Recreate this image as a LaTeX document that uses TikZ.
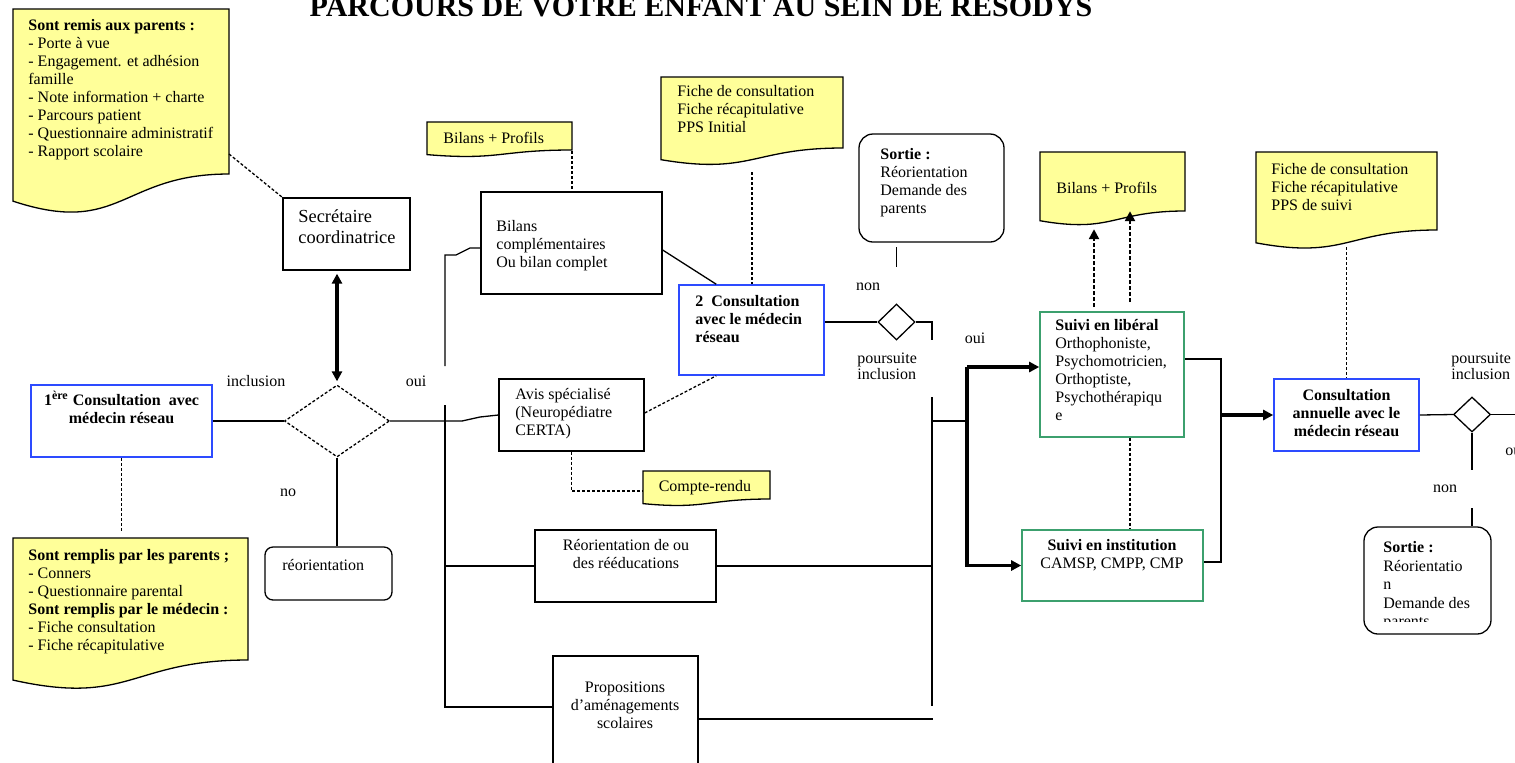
\documentclass[tikz,border=0pt]{standalone}
\usepackage{fontspec}
\setmainfont{Liberation Serif}
\usetikzlibrary{arrows.meta,positioning,fit,shapes.geometric}

\definecolor{noteyellow}{RGB}{255,255,153}
\definecolor{boxblue}{RGB}{45,75,255}
\definecolor{boxgreen}{RGB}{60,160,110}

\tikzset{
  bigtip/.tip={Triangle[length=5pt,width=5pt]},
  txt/.style={inner sep=0pt, align=left, font=\fontsize{8}{9}\selectfont},
  txtb/.style={txt, font=\fontsize{8}{9}\selectfont\bfseries},
  lbl/.style={txt, font=\fontsize{8}{8}\selectfont},
  titletxt/.style={inner sep=0pt, anchor=base, font=\fontsize{15}{15}\selectfont\bfseries},
  plainbox/.style={draw, line width=0.65pt, inner sep=0pt},
  bluebox/.style={plainbox, draw=boxblue, line width=0.8pt},
  greenbox/.style={plainbox, draw=boxgreen, line width=0.8pt},
  roundbox/.style={plainbox, rounded corners=#1},
  decision/.style={diamond, draw, line width=0.65pt, inner sep=0pt},
  notefill/.style={draw, fill=noteyellow, line width=0.65pt},
  link/.style={line width=0.65pt},
  dotlink/.style={line width=0.65pt, dash pattern=on 1.5pt off 1pt},
  bigarrow/.style={line width=1.6pt, -bigtip},
  twoway/.style={line width=1.6pt, bigtip-bigtip},
  dasharrow/.style={line width=1.2pt, dash pattern=on 2pt off 1pt, -bigtip},
}

% yellow document shape: left, top, right, right-bottom
\newcommand{\notedoc}[4]{%
  \pgfmathsetmacro{\notehgt}{(#4-#2)/0.802}
  \draw[notefill] (#1,#2) -- (#3,#2) -- (#3,#4)
    .. controls ({(#1+#3)/2},#4) and ({(#1+#3)/2},{#2+1.107*\notehgt}) ..
    (#1,{#2+0.934*\notehgt}) -- cycle;
}

\begin{document}
\begin{tikzpicture}[x=0.5pt,y=-0.5pt]
  \useasboundingbox (0,0) rectangle (1515,762);

  %Title, cut by the top of the page
  \node[titletxt] (title) at (701,16) {PARCOURS DE VOTRE ENFANT AU SEIN DE RESODYS};

  %Yellow notes
  \notedoc{13}{9}{229}{174}       %remis aux parents
  \notedoc{13}{538}{248}{660}     %remplis
  \notedoc{427}{122}{572}{150}    %bilans + profils
  \notedoc{661}{77}{843}{148}     %fiche initiale
  \notedoc{643}{471}{770}{499}    %compte-rendu
  \notedoc{1040}{152}{1185}{211}  %bilans + profils (suivi)
  \notedoc{1256}{152}{1437}{230}  %fiche de suivi

  \node[txt, anchor=north west] (remis) at (28,19) {\textbf{Sont remis aux parents :}\\- Porte à vue\\- Engagement. et adhésion\\famille\\- Note information + charte\\- Parcours patient\\- Questionnaire administratif\\- Rapport scolaire};
  \node[txt, anchor=north west] (remplis) at (28,549) {\textbf{Sont remplis par les parents ;}\\- Conners\\- Questionnaire parental\\\textbf{Sont remplis par le médecin :}\\- Fiche consultation\\- Fiche récapitulative};
  \node[txt, anchor=base west] (bilp1) at (443,143) {Bilans + Profils};
  \node[txt, anchor=north west] (fiche1) at (677,85) {Fiche de consultation\\Fiche récapitulative\\PPS Initial};
  \node[txt, anchor=base] (cr) at (705,491) {Compte-rendu};
  \node[txt, anchor=base west] (bilp2) at (1056,193) {Bilans + Profils};
  \node[txt, anchor=north west] (fiche2) at (1271,163) {Fiche de consultation\\Fiche récapitulative\\PPS de suivi};

  %Boxes
  \node[bluebox, fit={(31,385) (212,457)}] (cons1) {};
  \node[plainbox, fit={(283,198) (410,270)}] (secr) {};
  \node[plainbox, fit={(481,192) (662,294)}] (bilcomp) {};
  \node[plainbox, fit={(499,379) (644,451)}] (avis) {};
  \node[bluebox, fit={(679,285) (824,375)}] (cons2) {};
  \node[plainbox, fit={(535,530) (716,602)}] (reoreed) {};
  \node[plainbox, fit={(553,656) (698,800)}] (propo) {};
  \node[roundbox=4pt, fit={(265,547) (392,600)}] (reor) {};
  \node[roundbox=7pt, fit={(859,134) (1004,242)}] (sortie1) {};
  \node[greenbox, fit={(1040,312) (1184,437)}] (liberal) {};
  \node[greenbox, fit={(1022,530) (1203,601)}] (instit) {};
  \node[bluebox, fit={(1274,379) (1419,451)}] (consann) {};
  \node[roundbox=7pt, fit={(1364,527) (1491,634)}] (sortie2) {};

  %Decisions
  \node[decision, dash pattern=on 1.5pt off 1pt, minimum width=52.5pt, minimum height=36pt] (dec1) at (337,421) {};
  \node[decision, minimum width=18.5pt, minimum height=18pt] (dec2) at (896.5,322) {};
  \node[decision, minimum width=18.5pt, minimum height=17.5pt] (dec3) at (1472,414.5) {};

  %Box texts
  \node[txtb, align=center, anchor=north] (cons1-t) at (121.5,391) {1\textsuperscript{ère} Consultation~ avec\\médecin réseau};
  \node[txt, font=\fontsize{9.2}{10.5}\selectfont, anchor=north west] (secr-t) at (298,209) {Secrétaire\\coordinatrice};
  \node[txt, anchor=north west] (bilcomp-t) at (496,220) {Bilans\\complémentaires\\Ou bilan complet};
  \node[txt, anchor=north west] (avis-t) at (515,388) {Avis spécialisé\\(Neuropédiatre\\CERTA)};
  \node[txtb, anchor=north west] (cons2-t) at (695,295) {2~ Consultation\\avec le médecin\\réseau};
  \node[txt, align=center, anchor=north] (reoreed-t) at (626,539) {Réorientation de ou\\des rééducations};
  \node[txt, align=center, anchor=north] (propo-t) at (625,681) {Propositions\\d’aménagements\\scolaires};
  \node[txt, anchor=base west] (reor-t) at (282,570) {réorientation};
  \node[txt, anchor=north west] (sortie1-t) at (880,148) {\textbf{Sortie :}\\Réorientation\\Demande des\\parents};
  \node[txt, anchor=north west] (liberal-t) at (1055,319) {\textbf{Suivi en libéral}\\Orthophoniste,\\Psychomotricien,\\Orthoptiste,\\Psychothérapiqu\\e};
  \node[txt, align=center, anchor=north] (instit-t) at (1112,539) {\textbf{Suivi en institution}\\CAMSP, CMPP, CMP};
  \node[txtb, align=center, anchor=north] (consann-t) at (1346.5,389) {Consultation\\annuelle avec le\\médecin réseau};
  \begin{scope}
    \clip (1364,527) rectangle (1491,621);
    \node[txt, font=\fontsize{8}{9.3}\selectfont, anchor=north west] (sortie2-t) at (1383,541) {\textbf{Sortie :}\\Réorientatio\\n\\Demande des\\parents};
  \end{scope}

  %Labels on the connectors
  \node[lbl, anchor=base] (l-incl) at (256,386) {inclusion};
  \node[lbl, anchor=base] (l-oui1) at (416,386) {oui};
  \node[lbl, anchor=base] (l-no) at (288,496) {no};
  \node[lbl, anchor=base] (l-non2) at (868,290) {non};
  \node[lbl, anchor=north west] (l-pours2) at (857,352) {poursuite\\inclusion};
  \node[lbl, anchor=base] (l-oui2) at (975,343) {oui};
  \node[lbl, anchor=north west] (l-pours3) at (1451,352) {poursuite\\inclusion};
  \node[lbl, anchor=base] (l-non3) at (1445,492) {non};
  \node[lbl, anchor=base west] (l-oui3) at (1505,455) {oui};

  %Left part
  \coordinate (remis-end) at (229,154);
  \draw[dotlink] (remis-end) -- (secr.north west);
  \draw[twoway, shorten <=1.5pt, shorten >=1.5pt] (dec1.north |- secr.south) -- (dec1.north);
  \draw[link] (cons1.east) -- (dec1.west);
  \draw[link] (dec1.south) -- (dec1.south |- reor.north);
  \coordinate (remplis-top) at (121.5,532);
  \draw[dotlink] (cons1.south) -- (remplis-top);

  %Left bus
  \coordinate (busL-top) at (445,255);
  \coordinate (busL-mid) at (445,421);
  \coordinate (busL-gap1) at (445,366);
  \coordinate (busL-gap2) at (445,405);
  \coordinate (busL-bot) at (445,707);
  \draw[link] (dec1.east) -- (busL-mid) -- (462,421) -- (480,417) -- (avis.west);
  \draw[link] (bilcomp.west |- 0,248) -- (470,248) -- (456,255) -- (busL-top) -- (busL-gap1);
  \draw[link] (busL-gap2) -- (busL-bot) -- (busL-bot -| propo.west);
  \draw[link] (busL-top |- reoreed.west) -- (reoreed.west);

  %Middle part
  \coordinate (bilp1-foot) at (572,151);
  \draw[dotlink] (bilp1-foot) -- (bilp1-foot |- bilcomp.north);
  \coordinate (fiche1-foot) at (752,172);
  \draw[dotlink] (fiche1-foot) -- (fiche1-foot |- cons2.north);
  \draw[link] (bilcomp.east |- 0,250) -- ([xshift=19pt]cons2.north west);
  \draw[dotlink] (avis.east |- 0,413) -- ([xshift=19pt]cons2.south west);
  \coordinate (cr-in) at (643,491);
  \draw[dotlink] (avis.south) |- (cr-in);
  \draw[link] (cons2.east |- dec2.west) -- (dec2.west);
  \draw[link] (dec2.north |- 0,247) -- (dec2.north |- 0,267);

  %Right bus
  \coordinate (busR-top) at (932,322);
  \coordinate (busR-gap1) at (932,340);
  \coordinate (busR-gap2) at (932,397);
  \coordinate (busR-mid) at (932,421);
  \coordinate (busR-bot) at (932,706);
  \draw[link] (dec2.east) -- (busR-top) -- (busR-gap1);
  \draw[link] (busR-gap2) -- (busR-bot);
  \draw[link] (reoreed.east) -- (reoreed.east -| busR-top);
  \draw[link] (propo.north east |- 0,719) -- (933,719);

  %Follow-up
  \coordinate (sub-top) at (967,367);
  \draw[link] (busR-mid) -- (busR-mid -| sub-top);
  \draw[bigarrow] (sub-top) -- (sub-top -| liberal.west);
  \draw[bigarrow] (sub-top) |- (instit.west);
  \draw[dasharrow] ([xshift=-9pt,yshift=2pt]liberal.north) -- ++(0,-78);
  \draw[dasharrow] ([xshift=9pt,yshift=4.5pt]liberal.north) -- ++(0,-91);
  \draw[dotlink] ([xshift=9pt]liberal.south) -- ([xshift=9pt]liberal.south |- instit.north);
  \coordinate (coll) at (1221,562);
  \draw[link] (liberal.east |- 0,359) -| (coll) -- (coll -| instit.east);
  \draw[bigarrow] (coll |- consann.west) -- (consann.west);

  %Annual consultation
  \coordinate (fiche2-foot) at (1346.5,247);
  \draw[dotlink] (fiche2-foot) -- (consann.north);
  \draw[link] (consann.east) -- (dec3.west);
  \draw[link] (dec3.east) -- ++(40,0);
  \draw[link] (dec3.south) -- ++(0,37);
  \draw[link] (dec3.south |- 0,508) -- (dec3.south |- sortie2.north);
\end{tikzpicture}
\end{document}
